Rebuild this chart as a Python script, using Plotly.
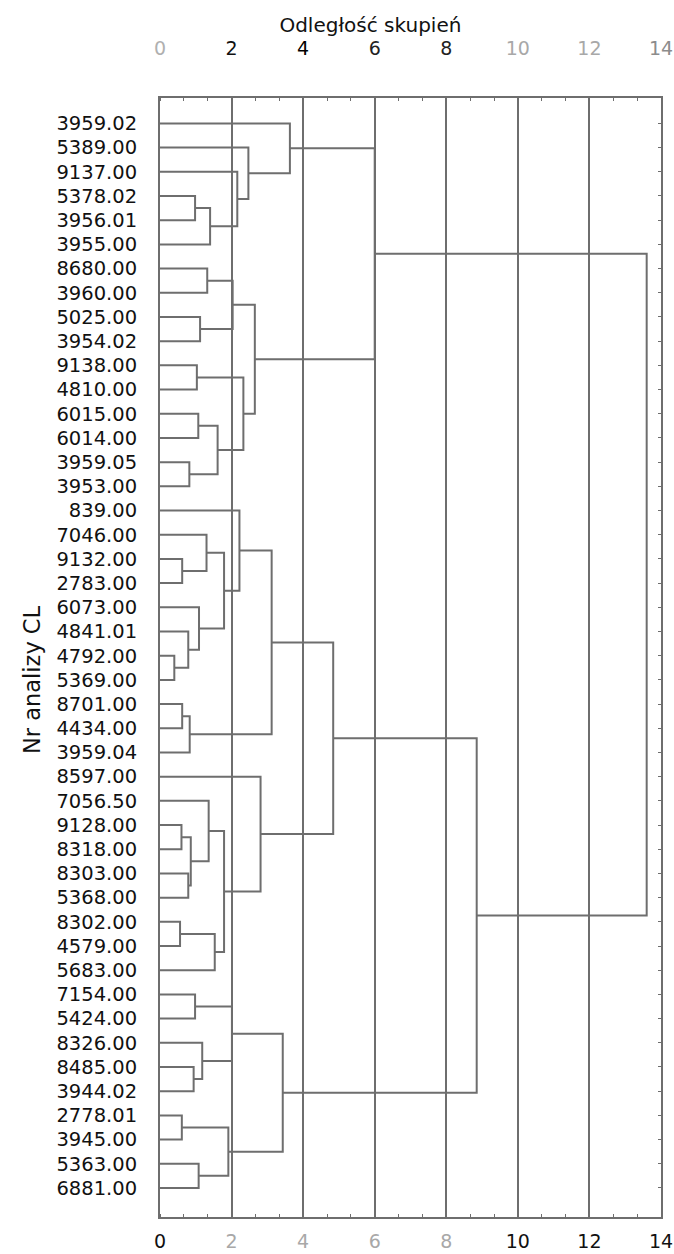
import plotly.graph_objects as go

# Leaf labels (CL analysis numbers), in dendrogram order from top to bottom
leaf_labels = [
    "3959.02", "5389.00", "9137.00", "5378.02", "3956.01", "3955.00",
    "8680.00", "3960.00", "5025.00", "3954.02", "9138.00", "4810.00",
    "6015.00", "6014.00", "3959.05", "3953.00", "839.00", "7046.00",
    "9132.00", "2783.00", "6073.00", "4841.01", "4792.00", "5369.00",
    "8701.00", "4434.00", "3959.04", "8597.00", "7056.50", "9128.00",
    "8318.00", "8303.00", "5368.00", "8302.00", "4579.00", "5683.00",
    "7154.00", "5424.00", "8326.00", "8485.00", "3944.02", "2778.01",
    "3945.00", "5363.00", "6881.00",
]

# Linkage table: ids < 45 are leaves, id 45 + k is the cluster made by merge k
merge_left = [
    3, 45, 2, 1, 0,
    6, 8, 50, 10, 12, 14, 54, 53, 52, 49,
    18, 17, 22, 21, 20, 61, 16, 24, 67, 66,
    29, 31, 70, 28, 33, 74, 73, 27, 69,
    36, 39, 38, 79, 41, 43, 83, 82, 78, 59,
]
merge_right = [
    4, 5, 46, 47, 48,
    7, 9, 51, 11, 13, 15, 55, 56, 57, 58,
    19, 60, 23, 62, 63, 64, 65, 25, 26, 68,
    30, 32, 71, 72, 34, 35, 75, 76, 77,
    37, 40, 80, 81, 42, 44, 84, 85, 86, 87,
]
merge_distance = [
    0.98, 1.40, 2.16, 2.47, 3.63,
    1.32, 1.12, 2.03, 1.03, 1.07, 0.82, 1.61, 2.33, 2.65, 6.00,
    0.62, 1.30, 0.40, 0.79, 1.09, 1.79, 2.22, 0.62, 0.83, 3.12,
    0.60, 0.79, 0.86, 1.36, 0.56, 1.53, 1.79, 2.81, 4.84,
    0.98, 0.94, 1.18, 2.01, 0.61, 1.08, 1.91, 3.43, 8.85, 13.60,
]

# Distance axis ticks and the ink of their printed labels (top / bottom)
dist_ticks = [0, 2, 4, 6, 8, 10, 12, 14]
top_label_colors = ["#b0b0b0", "#111111", "#000000", "#222222", "#222222",
                    "#a8a8a8", "#a8a8a8", "#8c8c8c"]
bottom_label_colors = ["#111111", "#a8a8a8", "#a8a8a8", "#a8a8a8", "#a8a8a8",
                       "#111111", "#111111", "#111111"]

LINE = "#6e6e6e"
FONT = "DejaVu Sans, Liberation Sans, Arial, sans-serif"

# Build the elbow connectors from the linkage table
n = len(leaf_labels)
node_y = [float(i) for i in range(n)]
node_h = [0.0] * n
xs, ys = [], []
for a, b, h in zip(merge_left, merge_right, merge_distance):
    ya, yb = node_y[a], node_y[b]
    xs += [node_h[a], h, h, node_h[b], None]
    ys += [ya, ya, yb, yb, None]
    node_y.append((ya + yb) / 2)
    node_h.append(h)

fig = go.Figure()
fig.add_trace(go.Scatter(
    x=xs, y=ys, mode="lines",
    line=dict(color=LINE, width=2),
    hoverinfo="skip", showlegend=False,
))
# anchor trace so the top distance axis is rendered
fig.add_trace(go.Scatter(
    x=[0], y=[0], xaxis="x2", mode="markers",
    marker=dict(opacity=0), hoverinfo="skip", showlegend=False,
))


def colored(vals, colors):
    return [f'<span style="color:{c}">{v}</span>' for v, c in zip(vals, colors)]


W, H = 674, 1254
M = dict(l=160, r=13, t=98, b=37)
plot_w, plot_h = W - M["l"] - M["r"], H - M["t"] - M["b"]

fig.update_layout(
    width=W, height=H, margin=M,
    paper_bgcolor="white", plot_bgcolor="white",
    font=dict(family=FONT, color="#111111"),
    title=dict(
        text="Odległość skupień", font=dict(size=20, color="#111111"),
        x=0.42, xref="paper", xanchor="center",
        y=1 - 25 / H, yref="container", yanchor="middle",
    ),
    xaxis=dict(
        range=[0, 14], tickvals=dist_ticks,
        ticktext=colored(dist_ticks, bottom_label_colors),
        tickfont=dict(size=19), ticks="", ticklabelstandoff=6,
        automargin=False,
        showgrid=True, gridcolor=LINE, gridwidth=2, zeroline=False,
        showline=True, linecolor=LINE, linewidth=2, mirror="ticks",
        minor=dict(dtick=2 / 3, tick0=0, ticks="inside", ticklen=3,
                   tickcolor=LINE, tickwidth=1, showgrid=False),
    ),
    xaxis2=dict(
        overlaying="x", matches="x", side="top", range=[0, 14],
        tickvals=dist_ticks, ticktext=colored(dist_ticks, top_label_colors),
        tickfont=dict(size=19), ticks="", ticklabelstandoff=38,
        automargin=False,
        showgrid=False, zeroline=False, showline=False,
    ),
    yaxis=dict(
        range=[45.2, -1.05], tickvals=list(range(n)), ticktext=leaf_labels,
        tickfont=dict(size=19.5, color="#111111"),
        ticks="inside", ticklen=3, tickcolor=LINE, tickwidth=1,
        ticklabelstandoff=17, automargin=False,
        showgrid=False, zeroline=False,
        showline=True, linecolor=LINE, linewidth=2, mirror="ticks",
    ),
    annotations=[dict(
        # vertical axis caption, placed left of the leaf labels
        text="Nr analizy CL", textangle=-90,
        font=dict(size=22.5, color="#111111"),
        x=(32 - M["l"]) / plot_w, xref="paper",
        y=(H - M["b"] - 680) / plot_h, yref="paper",
        xanchor="center", yanchor="middle", showarrow=False,
    )],
)

fig.write_html("out.html")
